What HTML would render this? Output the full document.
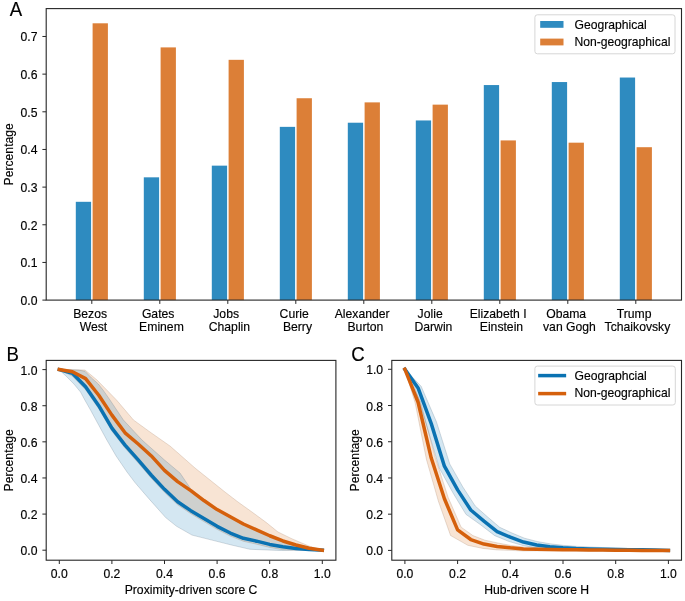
<!DOCTYPE html>
<html><head><meta charset="utf-8"><title>Figure</title>
<style>
html,body{margin:0;padding:0;background:#fff;}
body{width:685px;height:601px;overflow:hidden;}
svg{display:block;will-change:transform;}
svg text{font-family:"Liberation Sans", sans-serif;fill:#000;stroke:#000;stroke-width:0.15px;}
</style></head>
<body>
<svg width="685" height="601" viewBox="0 0 685 601">
<rect width="685" height="601" fill="#fff"/>
<rect x="75.80" y="201.81" width="15.3" height="98.29" fill="#2e8bc0"/>
<rect x="92.60" y="23.30" width="15.3" height="276.80" fill="#dc7f37"/>
<line x1="91.80" y1="300.10" x2="91.80" y2="303.90" stroke="#262626" stroke-width="1.0" />
<text x="90.15" y="317.50" font-size="12.2" text-anchor="middle" >Bezos</text>
<text x="93.45" y="330.50" font-size="12.2" text-anchor="middle" >West</text>
<rect x="143.80" y="177.33" width="15.3" height="122.77" fill="#2e8bc0"/>
<rect x="160.60" y="47.40" width="15.3" height="252.70" fill="#dc7f37"/>
<line x1="159.80" y1="300.10" x2="159.80" y2="303.90" stroke="#262626" stroke-width="1.0" />
<text x="158.15" y="317.50" font-size="12.2" text-anchor="middle" >Gates</text>
<text x="161.45" y="330.50" font-size="12.2" text-anchor="middle" >Eminem</text>
<rect x="211.80" y="165.65" width="15.3" height="134.45" fill="#2e8bc0"/>
<rect x="228.60" y="59.83" width="15.3" height="240.27" fill="#dc7f37"/>
<line x1="227.80" y1="300.10" x2="227.80" y2="303.90" stroke="#262626" stroke-width="1.0" />
<text x="226.15" y="317.50" font-size="12.2" text-anchor="middle" >Jobs</text>
<text x="229.45" y="330.50" font-size="12.2" text-anchor="middle" >Chaplin</text>
<rect x="279.80" y="126.86" width="15.3" height="173.24" fill="#2e8bc0"/>
<rect x="296.60" y="98.24" width="15.3" height="201.86" fill="#dc7f37"/>
<line x1="295.80" y1="300.10" x2="295.80" y2="303.90" stroke="#262626" stroke-width="1.0" />
<text x="294.15" y="317.50" font-size="12.2" text-anchor="middle" >Curie</text>
<text x="297.45" y="330.50" font-size="12.2" text-anchor="middle" >Berry</text>
<rect x="347.80" y="122.72" width="15.3" height="177.38" fill="#2e8bc0"/>
<rect x="364.60" y="102.38" width="15.3" height="197.72" fill="#dc7f37"/>
<line x1="363.80" y1="300.10" x2="363.80" y2="303.90" stroke="#262626" stroke-width="1.0" />
<text x="362.15" y="317.50" font-size="12.2" text-anchor="middle" >Alexander</text>
<text x="365.45" y="330.50" font-size="12.2" text-anchor="middle" >Burton</text>
<rect x="415.80" y="120.46" width="15.3" height="179.64" fill="#2e8bc0"/>
<rect x="432.60" y="104.64" width="15.3" height="195.46" fill="#dc7f37"/>
<line x1="431.80" y1="300.10" x2="431.80" y2="303.90" stroke="#262626" stroke-width="1.0" />
<text x="430.15" y="317.50" font-size="12.2" text-anchor="middle" >Jolie</text>
<text x="433.45" y="330.50" font-size="12.2" text-anchor="middle" >Darwin</text>
<rect x="483.80" y="85.06" width="15.3" height="215.04" fill="#2e8bc0"/>
<rect x="500.60" y="140.42" width="15.3" height="159.68" fill="#dc7f37"/>
<line x1="499.80" y1="300.10" x2="499.80" y2="303.90" stroke="#262626" stroke-width="1.0" />
<text x="498.15" y="317.50" font-size="12.2" text-anchor="middle" >Elizabeth I</text>
<text x="501.45" y="330.50" font-size="12.2" text-anchor="middle" >Einstein</text>
<rect x="551.80" y="82.05" width="15.3" height="218.05" fill="#2e8bc0"/>
<rect x="568.60" y="142.68" width="15.3" height="157.42" fill="#dc7f37"/>
<line x1="567.80" y1="300.10" x2="567.80" y2="303.90" stroke="#262626" stroke-width="1.0" />
<text x="566.15" y="317.50" font-size="12.2" text-anchor="middle" >Obama</text>
<text x="569.45" y="330.50" font-size="12.2" text-anchor="middle" >van Gogh</text>
<rect x="619.80" y="77.53" width="15.3" height="222.57" fill="#2e8bc0"/>
<rect x="636.60" y="147.20" width="15.3" height="152.90" fill="#dc7f37"/>
<line x1="635.80" y1="300.10" x2="635.80" y2="303.90" stroke="#262626" stroke-width="1.0" />
<text x="634.15" y="317.50" font-size="12.2" text-anchor="middle" >Trump</text>
<text x="637.45" y="330.50" font-size="12.2" text-anchor="middle" >Tchaikovsky</text>
<rect x="46.20" y="8.60" width="635.30" height="291.50" fill="none" stroke="#262626" stroke-width="1.1"/>
<line x1="42.40" y1="300.10" x2="46.20" y2="300.10" stroke="#262626" stroke-width="1.0" />
<text x="37.50" y="305.10" font-size="12.2" text-anchor="end" >0.0</text>
<line x1="42.40" y1="262.44" x2="46.20" y2="262.44" stroke="#262626" stroke-width="1.0" />
<text x="37.50" y="267.44" font-size="12.2" text-anchor="end" >0.1</text>
<line x1="42.40" y1="224.78" x2="46.20" y2="224.78" stroke="#262626" stroke-width="1.0" />
<text x="37.50" y="229.78" font-size="12.2" text-anchor="end" >0.2</text>
<line x1="42.40" y1="187.12" x2="46.20" y2="187.12" stroke="#262626" stroke-width="1.0" />
<text x="37.50" y="192.12" font-size="12.2" text-anchor="end" >0.3</text>
<line x1="42.40" y1="149.46" x2="46.20" y2="149.46" stroke="#262626" stroke-width="1.0" />
<text x="37.50" y="154.46" font-size="12.2" text-anchor="end" >0.4</text>
<line x1="42.40" y1="111.80" x2="46.20" y2="111.80" stroke="#262626" stroke-width="1.0" />
<text x="37.50" y="116.80" font-size="12.2" text-anchor="end" >0.5</text>
<line x1="42.40" y1="74.14" x2="46.20" y2="74.14" stroke="#262626" stroke-width="1.0" />
<text x="37.50" y="79.14" font-size="12.2" text-anchor="end" >0.6</text>
<line x1="42.40" y1="36.48" x2="46.20" y2="36.48" stroke="#262626" stroke-width="1.0" />
<text x="37.50" y="41.48" font-size="12.2" text-anchor="end" >0.7</text>
<text transform="translate(9.8,16.2) scale(0.93,1)" font-size="20">A</text>
<text transform="translate(12.9,154.3) rotate(-90)" font-size="12.2" text-anchor="middle">Percentage</text>
<rect x="534.9" y="14.8" width="140.1" height="39" rx="2.5" fill="#fff" fill-opacity="0.85" stroke="#d6d6d6" stroke-width="1"/>
<rect x="540.2" y="21" width="23.3" height="6.8" fill="#2e8bc0"/>
<rect x="540.2" y="38.6" width="23.3" height="6.8" fill="#dc7f37"/>
<text x="574.50" y="28.90" font-size="12.15" text-anchor="start" >Geographical</text>
<text x="574.50" y="46.00" font-size="12.15" text-anchor="start" >Non-geographical</text>
<path d="M59.30,369.50 L85.00,370.00 L97.00,380.00 L116.50,400.00 L133.50,420.00 L150.00,432.00 L160.00,439.00 L170.00,446.00 L178.00,453.00 L195.00,468.00 L210.00,480.00 L225.00,492.00 L238.00,502.00 L252.00,512.00 L266.00,522.30 L278.00,532.00 L291.10,538.40 L301.30,542.80 L310.00,546.40 L322.30,550.00 L322.30,550.20 L309.15,550.00 L296.00,550.00 L282.85,549.77 L269.70,547.42 L256.55,544.17 L243.40,541.28 L230.25,536.04 L217.10,529.36 L203.95,521.60 L190.80,513.65 L177.65,504.80 L164.50,492.34 L151.35,478.25 L138.20,462.90 L125.05,448.09 L111.90,431.11 L98.75,408.72 L85.60,389.76 L72.45,376.21 L59.30,369.60 Z" fill="#d55e00" fill-opacity="0.17" stroke="#8a5a3a" stroke-opacity="0.22" stroke-width="0.9" stroke-linejoin="round"/>
<path d="M59.30,369.50 L78.30,370.00 L85.00,371.30 L91.60,378.00 L98.30,384.00 L103.00,390.00 L110.00,400.00 L123.40,420.00 L142.00,440.00 L164.50,460.00 L180.00,473.00 L190.80,489.00 L217.10,509.50 L243.40,524.00 L269.70,535.50 L296.00,544.50 L322.30,550.00 L322.30,550.00 L280.00,550.50 L250.00,549.30 L231.40,545.00 L213.90,540.60 L192.00,535.10 L176.60,526.30 L165.70,517.60 L148.20,497.90 L135.00,482.60 L127.00,472.00 L116.10,456.00 L106.80,440.00 L98.10,424.00 L90.50,410.00 L84.80,400.00 L80.50,392.00 L73.90,384.00 L66.00,376.00 L59.30,370.00 Z" fill="#0072b2" fill-opacity="0.17" stroke="#3a5466" stroke-opacity="0.22" stroke-width="0.9" stroke-linejoin="round"/>
<path d="M59.30,369.60 L72.45,373.21 L85.60,386.76 L98.75,405.72 L111.90,428.11 L125.05,445.09 L138.20,459.90 L151.35,475.25 L164.50,489.34 L177.65,501.80 L190.80,510.65 L203.95,518.60 L217.10,526.36 L230.25,533.04 L243.40,538.28 L256.55,541.17 L269.70,544.42 L282.85,546.77 L296.00,548.39 L309.15,549.48 L322.30,550.20" fill="none" stroke="#0a72b2" stroke-width="3.5" stroke-linecap="square" stroke-linejoin="round"/>
<path d="M59.30,369.60 L72.45,371.77 L85.60,378.63 L98.75,395.25 L111.90,415.11 L125.05,432.81 L138.20,444.01 L151.35,455.93 L164.50,470.37 L177.65,481.57 L190.80,490.60 L203.95,500.54 L217.10,509.57 L230.25,516.79 L243.40,524.01 L256.55,529.79 L269.70,535.75 L282.85,540.99 L296.00,544.96 L309.15,548.21 L322.30,550.20" fill="none" stroke="#d5600c" stroke-width="3.5" stroke-linecap="square" stroke-linejoin="round"/>
<rect x="46.20" y="360.40" width="289.70" height="199.80" fill="none" stroke="#262626" stroke-width="1.1"/>
<line x1="42.40" y1="550.20" x2="46.20" y2="550.20" stroke="#262626" stroke-width="1.0" />
<text x="37.50" y="555.20" font-size="12.2" text-anchor="end" >0.0</text>
<line x1="59.30" y1="560.20" x2="59.30" y2="564.00" stroke="#262626" stroke-width="1.0" />
<text x="59.30" y="578.00" font-size="12.2" text-anchor="middle" >0.0</text>
<line x1="42.40" y1="514.08" x2="46.20" y2="514.08" stroke="#262626" stroke-width="1.0" />
<text x="37.50" y="519.08" font-size="12.2" text-anchor="end" >0.2</text>
<line x1="111.90" y1="560.20" x2="111.90" y2="564.00" stroke="#262626" stroke-width="1.0" />
<text x="111.90" y="578.00" font-size="12.2" text-anchor="middle" >0.2</text>
<line x1="42.40" y1="477.96" x2="46.20" y2="477.96" stroke="#262626" stroke-width="1.0" />
<text x="37.50" y="482.96" font-size="12.2" text-anchor="end" >0.4</text>
<line x1="164.50" y1="560.20" x2="164.50" y2="564.00" stroke="#262626" stroke-width="1.0" />
<text x="164.50" y="578.00" font-size="12.2" text-anchor="middle" >0.4</text>
<line x1="42.40" y1="441.84" x2="46.20" y2="441.84" stroke="#262626" stroke-width="1.0" />
<text x="37.50" y="446.84" font-size="12.2" text-anchor="end" >0.6</text>
<line x1="217.10" y1="560.20" x2="217.10" y2="564.00" stroke="#262626" stroke-width="1.0" />
<text x="217.10" y="578.00" font-size="12.2" text-anchor="middle" >0.6</text>
<line x1="42.40" y1="405.72" x2="46.20" y2="405.72" stroke="#262626" stroke-width="1.0" />
<text x="37.50" y="410.72" font-size="12.2" text-anchor="end" >0.8</text>
<line x1="269.70" y1="560.20" x2="269.70" y2="564.00" stroke="#262626" stroke-width="1.0" />
<text x="269.70" y="578.00" font-size="12.2" text-anchor="middle" >0.8</text>
<line x1="42.40" y1="369.60" x2="46.20" y2="369.60" stroke="#262626" stroke-width="1.0" />
<text x="37.50" y="374.60" font-size="12.2" text-anchor="end" >1.0</text>
<line x1="322.30" y1="560.20" x2="322.30" y2="564.00" stroke="#262626" stroke-width="1.0" />
<text x="322.30" y="578.00" font-size="12.2" text-anchor="middle" >1.0</text>
<text x="191.05" y="593.80" font-size="12.2" text-anchor="middle" >Proximity-driven score C</text>
<text transform="translate(13.0,460.30) rotate(-90)" font-size="12.2" text-anchor="middle">Percentage</text>
<text transform="translate(6.6,361.0) scale(0.93,1)" font-size="20">B</text>
<path d="M404.90,369.30 L420.46,401.51 L435.10,456.96 L448.17,497.39 L461.13,527.14 L472.85,535.54 L484.95,540.19 L497.62,542.95 L510.54,545.38 L523.58,546.95 L536.68,547.81 L549.84,548.24 L563.01,548.68 L576.19,548.98 L589.36,549.29 L602.53,549.41 L615.70,549.72 L628.88,549.84 L642.05,550.15 L655.23,550.27 L668.40,550.40 L668.40,550.40 L655.23,550.52 L642.05,550.65 L628.87,550.59 L615.70,550.72 L602.52,550.66 L589.34,550.79 L576.16,550.73 L562.99,550.68 L549.81,550.74 L536.62,550.81 L523.37,550.95 L510.06,550.35 L496.63,549.88 L482.82,548.42 L467.77,545.30 L450.55,535.53 L438.33,501.05 L426.43,459.38 L415.21,403.16 L404.90,369.30 Z" fill="#d55e00" fill-opacity="0.17" stroke="#8a5a3a" stroke-opacity="0.22" stroke-width="0.9" stroke-linejoin="round"/>
<path d="M404.90,369.30 L421.17,386.32 L436.46,421.86 L449.76,463.91 L462.74,486.81 L475.26,506.03 L487.43,516.80 L499.69,527.27 L511.97,533.00 L524.60,538.23 L537.26,541.52 L550.15,543.80 L563.17,545.37 L576.27,546.34 L589.40,546.95 L602.56,547.56 L615.72,547.99 L628.89,548.43 L642.06,548.86 L655.24,549.54 L668.40,550.40 L668.40,550.40 L655.21,550.54 L642.04,550.86 L628.86,550.93 L615.68,550.99 L602.49,551.06 L589.30,550.95 L576.08,550.84 L562.83,550.36 L549.52,549.51 L536.12,547.92 L522.49,545.43 L508.63,541.36 L494.69,535.64 L480.79,524.93 L465.92,514.33 L452.89,492.76 L439.46,468.31 L426.51,425.24 L415.42,389.35 L404.90,369.30 Z" fill="#0072b2" fill-opacity="0.17" stroke="#3a5466" stroke-opacity="0.22" stroke-width="0.9" stroke-linejoin="round"/>
<path d="M404.90,369.30 L418.07,387.95 L431.25,423.63 L444.42,466.19 L457.60,489.91 L470.77,510.01 L483.95,521.06 L497.12,531.57 L510.30,537.18 L523.48,542.07 L536.65,544.97 L549.83,546.78 L563.00,547.86 L576.17,548.59 L589.35,548.95 L602.52,549.31 L615.70,549.49 L628.88,549.68 L642.05,549.86 L655.23,550.04 L668.40,550.40" fill="none" stroke="#0a72b2" stroke-width="3.5" stroke-linecap="square" stroke-linejoin="round"/>
<path d="M404.90,369.30 L418.07,402.26 L431.25,458.04 L444.42,498.79 L457.60,529.94 L470.77,539.53 L483.95,544.06 L497.12,546.42 L510.30,547.86 L523.48,548.95 L536.65,549.31 L549.83,549.49 L563.00,549.68 L576.17,549.86 L589.35,550.04 L602.52,550.04 L615.70,550.22 L628.88,550.22 L642.05,550.40 L655.23,550.40 L668.40,550.40" fill="none" stroke="#d5600c" stroke-width="3.5" stroke-linecap="square" stroke-linejoin="round"/>
<rect x="391.80" y="360.40" width="289.70" height="199.80" fill="none" stroke="#262626" stroke-width="1.1"/>
<line x1="388.00" y1="550.40" x2="391.80" y2="550.40" stroke="#262626" stroke-width="1.0" />
<text x="383.10" y="555.40" font-size="12.2" text-anchor="end" >0.0</text>
<line x1="404.90" y1="560.20" x2="404.90" y2="564.00" stroke="#262626" stroke-width="1.0" />
<text x="404.90" y="578.00" font-size="12.2" text-anchor="middle" >0.0</text>
<line x1="388.00" y1="514.18" x2="391.80" y2="514.18" stroke="#262626" stroke-width="1.0" />
<text x="383.10" y="519.18" font-size="12.2" text-anchor="end" >0.2</text>
<line x1="457.60" y1="560.20" x2="457.60" y2="564.00" stroke="#262626" stroke-width="1.0" />
<text x="457.60" y="578.00" font-size="12.2" text-anchor="middle" >0.2</text>
<line x1="388.00" y1="477.96" x2="391.80" y2="477.96" stroke="#262626" stroke-width="1.0" />
<text x="383.10" y="482.96" font-size="12.2" text-anchor="end" >0.4</text>
<line x1="510.30" y1="560.20" x2="510.30" y2="564.00" stroke="#262626" stroke-width="1.0" />
<text x="510.30" y="578.00" font-size="12.2" text-anchor="middle" >0.4</text>
<line x1="388.00" y1="441.74" x2="391.80" y2="441.74" stroke="#262626" stroke-width="1.0" />
<text x="383.10" y="446.74" font-size="12.2" text-anchor="end" >0.6</text>
<line x1="563.00" y1="560.20" x2="563.00" y2="564.00" stroke="#262626" stroke-width="1.0" />
<text x="563.00" y="578.00" font-size="12.2" text-anchor="middle" >0.6</text>
<line x1="388.00" y1="405.52" x2="391.80" y2="405.52" stroke="#262626" stroke-width="1.0" />
<text x="383.10" y="410.52" font-size="12.2" text-anchor="end" >0.8</text>
<line x1="615.70" y1="560.20" x2="615.70" y2="564.00" stroke="#262626" stroke-width="1.0" />
<text x="615.70" y="578.00" font-size="12.2" text-anchor="middle" >0.8</text>
<line x1="388.00" y1="369.30" x2="391.80" y2="369.30" stroke="#262626" stroke-width="1.0" />
<text x="383.10" y="374.30" font-size="12.2" text-anchor="end" >1.0</text>
<line x1="668.40" y1="560.20" x2="668.40" y2="564.00" stroke="#262626" stroke-width="1.0" />
<text x="668.40" y="578.00" font-size="12.2" text-anchor="middle" >1.0</text>
<text x="536.65" y="593.80" font-size="12.2" text-anchor="middle" >Hub-driven score H</text>
<text transform="translate(359.0,460.30) rotate(-90)" font-size="12.2" text-anchor="middle">Percentage</text>
<text transform="translate(351.2,361.0) scale(0.93,1)" font-size="20">C</text>
<rect x="534.9" y="366.1" width="140.4" height="38.9" rx="2.5" fill="#fff" fill-opacity="0.85" stroke="#d6d6d6" stroke-width="1"/>
<line x1="539.90" y1="375.60" x2="564.40" y2="375.60" stroke="#0a72b2" stroke-width="3.5" stroke-linecap="square"/>
<line x1="539.90" y1="393.60" x2="564.40" y2="393.60" stroke="#d5600c" stroke-width="3.5" stroke-linecap="square"/>
<text x="574.50" y="380.00" font-size="12.15" text-anchor="start" >Geographcial</text>
<text x="574.50" y="397.20" font-size="12.15" text-anchor="start" >Non-geographical</text>
</svg>
</body></html>
